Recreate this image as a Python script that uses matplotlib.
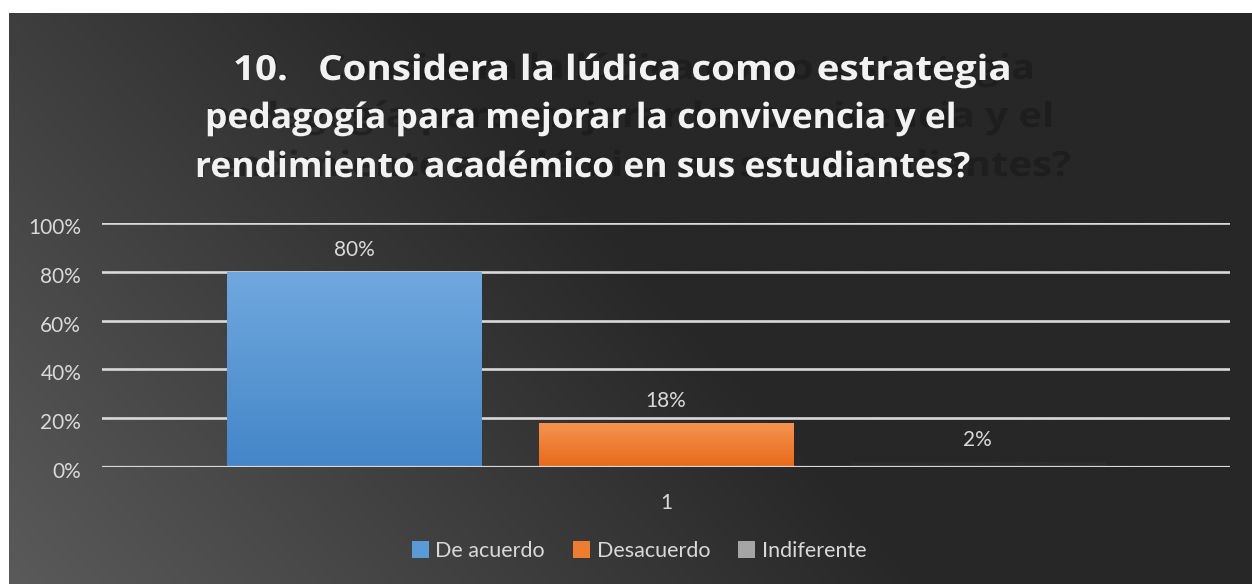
import numpy as np
import matplotlib
matplotlib.use("Agg")
import matplotlib.pyplot as plt
from matplotlib.patches import Patch
from matplotlib.colors import LinearSegmentedColormap, to_rgba
from matplotlib.patheffects import AbstractPathEffect
from matplotlib.transforms import Affine2D, ScaledTranslation

# ---- data ----
series_names = ["De acuerdo", "Desacuerdo", "Indiferente"]
values = [0.80, 0.18, 0.02]
category_labels = ["1"]
y_ticks = [0, 0.2, 0.4, 0.6, 0.8, 1.0]
y_tick_labels = ["0%", "20%", "40%", "60%", "80%", "100%"]
title_lines = ["10.   Considera la lúdica como  estrategia",
               "pedagogía para mejorar la convivencia y el",
               "rendimiento académico en sus estudiantes?"]

W, H = 1252, 584
fig = plt.figure(figsize=(W / 100, H / 100), dpi=100, facecolor="white")

# ---- background panel with gradient ----
bg = fig.add_axes([9 / W, 0, 1 - 9 / W, 1 - 13 / H])
bg.set_axis_off()
nx, ny = 400, 200
u = np.linspace(0, 1, nx)[None, :]
v = np.linspace(1, 0, ny)[:, None]
t = np.clip(1 - (u * 1.35 + v * 0.55), 0, 1)
dark, light = 0x27 / 255, 0x5a / 255
img = dark + (light - dark) * t
bg.imshow(np.dstack([img, img, img]), aspect="auto", extent=[0, 1, 0, 1],
          interpolation="bicubic")
bg.set_xlim(0, 1)
bg.set_ylim(0, 1)


class StretchText(AbstractPathEffect):
    """Draw glyphs stretched horizontally about x0, with a dark wider shadow behind."""
    def __init__(self, x0, sx, shadow_sx, shadow_color, shadow_alpha, dy=0.0):
        super().__init__()
        self.x0, self.sx, self.ssx, self.dy = x0, sx, shadow_sx, dy
        self.srgba = to_rgba(shadow_color, shadow_alpha)

    def _aff(self, affine, s, dy):
        return affine + Affine2D().translate(-self.x0, 0).scale(s, 1).translate(self.x0, dy)

    def draw_path(self, renderer, gc, tpath, affine, rgbFace=None):
        gc0 = renderer.new_gc()
        gc0.copy_properties(gc)
        gc0.set_linewidth(0)
        renderer.draw_path(gc0, tpath, self._aff(affine, self.sx * self.ssx, self.dy), self.srgba)
        gc0.restore()
        renderer.draw_path(gc, tpath, self._aff(affine, self.sx, 0), rgbFace)


# ---- title ----
lefts = [233, 205, 195]
baselines = [80, 128, 177]
text_stretch = [1.11, 1.02, 1.02]
shadow_stretch = [1.03, 1.13, 1.13]
for line, lx, by, sx, ssx in zip(title_lines, lefts, baselines, text_stretch, shadow_stretch):
    fig.text(lx / W, 1 - by / H, line, ha="left", va="baseline",
             fontsize=25, fontweight="bold", family="Open Sans",
             color="#f2f2f2",
             path_effects=[StretchText(lx, sx, ssx, "#181818", 0.6, dy=1)])

# ---- main axes ----
ax = fig.add_axes([102 / W, 1 - 467 / H, (1230 - 102) / W, (467 - 223) / H])
ax.patch.set_alpha(0)
x = np.arange(len(values))
top_colors = ["#70a8de", "#f5934f", "#2e2e2e"]
bot_colors = ["#4486c8", "#e8691a", "#2a2a2a"]
bar_w = 0.815
bars = ax.bar(x, values, width=bar_w, color="none", edgecolor="none", zorder=3)
for b, c1, c2 in zip(bars, top_colors, bot_colors):
    cmap = LinearSegmentedColormap.from_list("g", [c2, c1])
    x0, y0 = b.get_x(), b.get_y()
    w, h = b.get_width(), b.get_height()
    grad = np.linspace(1, 0, 100)[:, None]
    im = ax.imshow(grad, cmap=cmap, aspect="auto", extent=[x0, x0 + w, y0, y0 + h],
                   zorder=3, interpolation="bicubic")
    im.set_clip_path(b)

for xi, val in zip(x, values):
    ax.annotate(f"{val * 100:.0f}%", (xi, val), xytext=(0, 16),
                textcoords="offset points", ha="center", va="center",
                fontsize=15, family="Lato", color="#d9d9d9", zorder=5)

ax.set_xlim(-0.809, 2.81)
ax.set_ylim(0, 1)
ax.set_yticks(y_ticks)
ax.set_yticklabels(y_tick_labels)
ax.yaxis.grid(True, color="#d9d9d9", linewidth=1.9, zorder=1)
ax.set_axisbelow(True)
ax.axhline(0, color="#d9d9d9", linewidth=2.3, zorder=4)
ax.set_xticks([1])
ax.set_xticklabels(category_labels)
ax.tick_params(axis="both", length=0, labelsize=15, labelcolor="#d9d9d9")
ax.tick_params(axis="x", pad=19)
ax.tick_params(axis="y", pad=15)
for lab in ax.get_xticklabels() + ax.get_yticklabels():
    lab.set_family("Lato")
for lab in ax.get_yticklabels():
    lab.set_transform(lab.get_transform() + ScaledTranslation(0, -3 / 100, fig.dpi_scale_trans))
for s in ax.spines.values():
    s.set_visible(False)

# ---- legend ----
legend_colors = ["#5b9bd5", "#ed7d31", "#a5a5a5"]
handles = [Patch(facecolor=c, edgecolor="none", label=n)
           for c, n in zip(legend_colors, series_names)]
leg = fig.legend(handles=handles, loc="center", bbox_to_anchor=(639 / W, 1 - 551 / H),
                 ncol=3, frameon=False, handlelength=0.8,
                 handleheight=0.8, handletextpad=0.3, columnspacing=1.3,
                 prop={"family": "Lato", "size": 15.5})
for t_ in leg.get_texts():
    t_.set_color("#d9d9d9")

fig.savefig("out.png", dpi=100, facecolor="white")
